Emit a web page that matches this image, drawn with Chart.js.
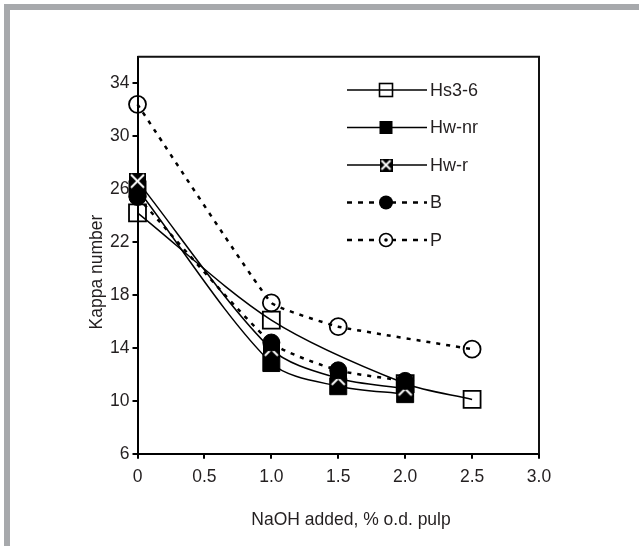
<!DOCTYPE html>
<html>
<head>
<meta charset="utf-8">
<script src="https://cdn.jsdelivr.net/npm/chart.js@4"></script>
<style>
  html, body { margin: 0; padding: 0; background: #fff; }
  #wrap { width: 639px; height: 546px; position: relative; }
</style>
</head>
<body>
<div id="wrap"><canvas id="chart" width="639" height="546"></canvas></div>
<script>
// Values
const xTicks = [0, 0.5, 1.0, 1.5, 2.0, 2.5, 3.0];
const yTicks = [6, 10, 14, 18, 22, 26, 30, 34];

const hs36X = [0, 1.0, 2.0, 2.5];
const hs36Y = [24.2, 16.1, 11.3, 10.1];
const hwnrX = [0, 1.0, 1.5, 2.0];
const hwnrY = [26.0, 12.85, 11.1, 10.5];
const hwrX = [0, 1.0, 1.5, 2.0];
const hwrY = [26.6, 13.9, 11.7, 10.9];
const bX = [0, 1.0, 1.5, 2.0];
const bY = [25.4, 14.4, 12.3, 11.5];
const pX = [0, 1.0, 1.5, 2.5];
const pY = [32.4, 17.4, 15.6, 13.9];

const legendOrder = ['Hs3-6', 'Hw-nr', 'Hw-r', 'B', 'P'];
const xTitle = 'NaOH added, % o.d. pulp';
const yTitle = 'Kappa number';

const FONT = "'Liberation Sans', Arial, sans-serif";
const INK = '#231f20';
const DOTS = [4, 6];

const pts = (xs, ys) => xs.map((x, i) => ({ x, y: ys[i] }));

// black square with a white X
function crossSquare(size) {
  const c = document.createElement('canvas');
  c.width = size; c.height = size;
  const g = c.getContext('2d');
  g.fillStyle = '#000';
  g.fillRect(0, 0, size, size);
  g.strokeStyle = '#fff';
  g.lineWidth = 2;
  g.beginPath();
  g.moveTo(2, 2); g.lineTo(size - 2, size - 2);
  g.moveTo(size - 2, 2); g.lineTo(2, size - 2);
  g.stroke();
  return c;
}
const crossBig = crossSquare(17);
const crossSmall = crossSquare(13);

const base = { showLine: true, tension: 0.3, borderColor: '#000', pointBorderColor: '#000', clip: false };

// index 0 is drawn on top
const datasets = [
  { ...base, label: 'P', data: pts(pX, pY), borderWidth: 2.5, borderDash: DOTS, tension: 0.1,
    pointStyle: 'circle', pointRadius: 8.5, pointBorderWidth: 1.8, pointBackgroundColor: 'rgba(0,0,0,0)', mark: 'openCircle' },
  { ...base, label: 'B', data: pts(bX, bY), borderWidth: 2.5, borderDash: DOTS, tension: 0.2,
    pointStyle: 'circle', pointRadius: 8.5, pointBorderWidth: 1, pointBackgroundColor: '#000', mark: 'dot' },
  { ...base, label: 'Hw-r', data: pts(hwrX, hwrY), borderWidth: 1.5,
    pointStyle: crossBig, pointRadius: 8.5, mark: 'cross' },
  { ...base, label: 'Hw-nr', data: pts(hwnrX, hwnrY), borderWidth: 1.5,
    pointStyle: 'rect', pointRadius: 12, pointBorderWidth: 1, pointBackgroundColor: '#000', mark: 'fillSquare' },
  { ...base, label: 'Hs3-6', data: pts(hs36X, hs36Y), borderWidth: 1.5,
    pointStyle: 'rect', pointRadius: 12, pointBorderWidth: 1.8, pointBackgroundColor: 'rgba(0,0,0,0)', mark: 'openSquare' },
];

// grey frame, top/right box lines and the axis titles
const framePlugin = {
  id: 'frame',
  beforeDraw(chart) {
    const ctx = chart.ctx;
    ctx.save();
    ctx.fillStyle = '#fff';
    ctx.fillRect(0, 0, chart.width, chart.height);
    ctx.fillStyle = '#a7a9ac';
    ctx.fillRect(4, 4, chart.width - 4, 6);
    ctx.fillRect(4, 4, 6, chart.height - 4);
    ctx.restore();
  },
  afterDraw(chart) {
    const { ctx, chartArea: a } = chart;
    ctx.save();
    ctx.strokeStyle = '#111';
    ctx.lineWidth = 2;
    ctx.beginPath();
    ctx.moveTo(a.left, a.top);
    ctx.lineTo(a.right, a.top);
    ctx.lineTo(a.right, a.bottom);
    ctx.stroke();

    ctx.fillStyle = INK;
    ctx.font = `17.5px ${FONT}`;
    ctx.textAlign = 'center';
    ctx.textBaseline = 'middle';
    ctx.fillText(xTitle, 351, 520);
    ctx.translate(97, 272);
    ctx.rotate(-Math.PI / 2);
    ctx.fillText(yTitle, 0, 0);
    ctx.restore();
  }
};

const legendPlugin = {
  id: 'figLegend',
  afterDraw(chart) {
    const ctx = chart.ctx;
    const x0 = 347, x1 = 427, mx = 386, tx = 430;
    legendOrder.forEach((name, i) => {
      const ds = chart.data.datasets.find(d => d.label === name);
      const y = 90 + i * 37.5;
      ctx.save();
      ctx.strokeStyle = '#000';
      ctx.lineWidth = ds.borderDash ? 2.5 : 1.5;
      ctx.setLineDash(ds.borderDash ? [5, 6] : []);
      ctx.beginPath();
      ctx.moveTo(x0, y);
      ctx.lineTo(x1, y);
      ctx.stroke();
      ctx.setLineDash([]);
      ctx.lineWidth = 1.6;
      if (ds.mark === 'openSquare') {
        ctx.strokeRect(mx - 6.5, y - 6.5, 13, 13);
      } else if (ds.mark === 'fillSquare') {
        ctx.fillStyle = '#000';
        ctx.fillRect(mx - 6.5, y - 6.5, 13, 13);
      } else if (ds.mark === 'cross') {
        ctx.drawImage(crossSmall, mx - 6.5, y - 6.5);
      } else if (ds.mark === 'dot') {
        ctx.fillStyle = '#000';
        ctx.beginPath();
        ctx.arc(mx, y, 7, 0, Math.PI * 2);
        ctx.fill();
      } else {
        ctx.fillStyle = '#fff';
        ctx.beginPath();
        ctx.arc(mx, y, 6.5, 0, Math.PI * 2);
        ctx.fill();
        ctx.stroke();
        ctx.fillStyle = '#000';
        ctx.beginPath();
        ctx.arc(mx, y, 1.8, 0, Math.PI * 2);
        ctx.fill();
      }
      ctx.fillStyle = INK;
      ctx.font = `18px ${FONT}`;
      ctx.textAlign = 'left';
      ctx.textBaseline = 'middle';
      ctx.fillText(name, tx, y + 1);
      ctx.restore();
    });
  }
};

const axisGrid = { drawOnChartArea: false, drawTicks: true, tickLength: 5, color: '#000', lineWidth: 2 };
const axisBorder = { display: true, color: '#000', width: 2 };

new Chart(document.getElementById('chart'), {
  type: 'scatter',
  data: { datasets },
  options: {
    responsive: false,
    animation: false,
    devicePixelRatio: 1,
    layout: { padding: { left: 83, top: 56.7, right: 100, bottom: 12.3 } },
    plugins: { legend: { display: false }, tooltip: { enabled: false } },
    scales: {
      x: {
        type: 'linear', min: 0, max: 3,
        afterBuildTicks: s => { s.ticks = xTicks.map(v => ({ value: v })); },
        afterFit: s => { s.height = 80; },
        ticks: {
          color: INK, padding: 8, maxRotation: 0, autoSkip: false,
          font: { family: FONT, size: 17.5 },
          callback: v => (v === 0 ? '0' : Number(v).toFixed(1)),
        },
        grid: axisGrid,
        border: axisBorder,
      },
      y: {
        type: 'linear', min: 6, max: 36,
        afterBuildTicks: s => { s.ticks = yTicks.map(v => ({ value: v })); },
        afterFit: s => { s.width = 54.5; },
        ticks: {
          color: INK, padding: 3, autoSkip: false,
          font: { family: FONT, size: 17.5 },
          callback: v => String(v),
        },
        grid: axisGrid,
        border: axisBorder,
      },
    },
  },
  plugins: [framePlugin, legendPlugin],
});
</script>
</body>
</html>
